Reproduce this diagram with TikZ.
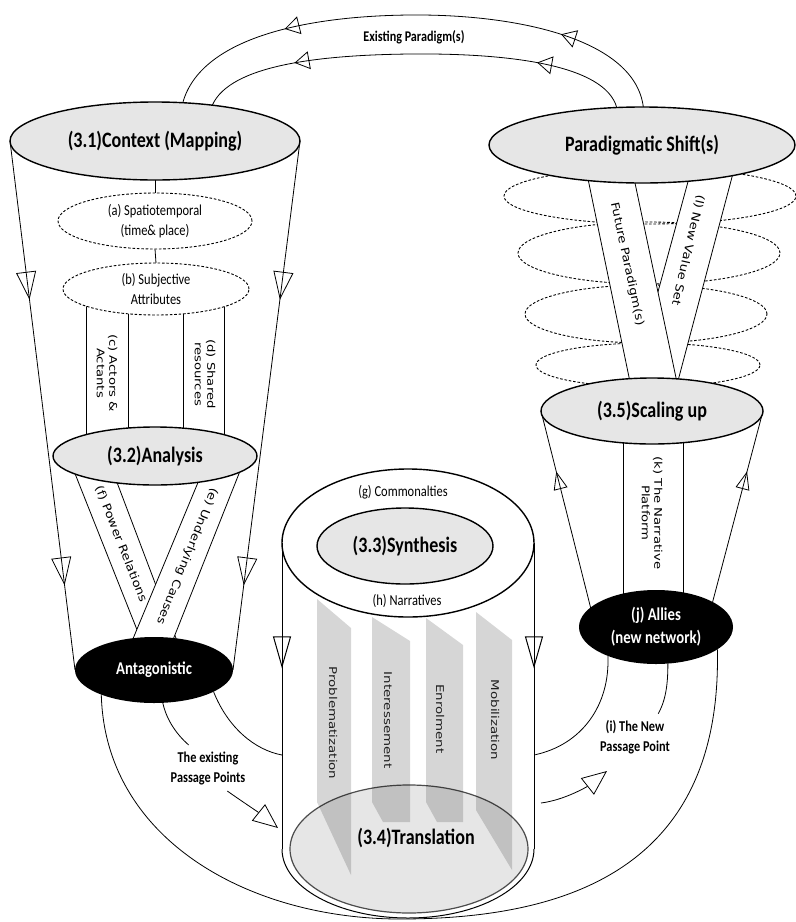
\documentclass[tikz,border=0pt]{standalone}
\usepackage{fontspec}
\setmainfont{Carlito}
\newfontfamily\cfont[FakeStretch=0.82]{Carlito}
\newfontfamily\rotf{DejaVu Sans}
\usetikzlibrary{shapes.geometric,arrows.meta,decorations.markings,calc}
\definecolor{ellfill}{HTML}{E6E6E6}
\pgfdeclarelayer{bg}
\pgfsetlayers{bg,main}
\tikzset{
  oval/.style={ellipse, draw, line width=0.7pt, fill=ellfill, inner sep=0pt, outer sep=0pt,
    font=\cfont\bfseries\fontsize{11}{13}\selectfont},
  darkoval/.style={ellipse, fill=black, text=white, inner sep=0pt, outer sep=0pt, align=center,
    font=\cfont\bfseries\fontsize{9}{11.5}\selectfont},
  dashoval/.style={ellipse, draw, dash pattern=on 1.3pt off 0.9pt, line width=0.45pt, fill=white,
    inner sep=0pt, outer sep=0pt, align=center, font=\cfont\fontsize{7.6}{10.3}\selectfont},
  ring/.style={ellipse, draw, dash pattern=on 1.3pt off 0.9pt, line width=0.45pt, inner sep=0pt, outer sep=0pt},
  facetop/.style={ellipse, draw, line width=0.7pt, fill=white, inner sep=0pt, outer sep=0pt},
  note/.style={font=\cfont\fontsize{7.6}{10}\selectfont, inner sep=1pt},
  boldnote/.style={font=\cfont\bfseries\fontsize{7.5}{10}\selectfont, align=center, inner sep=3pt},
  bandtext/.style={font=\rotf\fontsize{6.6}{7.8}\selectfont, align=center, inner sep=0pt},
  stagetext/.style={font=\rotf\fontsize{6.7}{8}\selectfont, text=black!88, inner sep=0pt},
  panel/.style={fill=black, fill opacity=0.16},
  twotri/.style n args={4}{postaction={decorate}, decoration={markings,
      mark=at position #1 with {\arrow{Triangle[open,length=#3,width=#4]}},
      mark=at position #2 with {\arrow{Triangle[open,length=#3,width=#4]}}}},
  onetri/.style n args={3}{postaction={decorate}, decoration={markings,
      mark=at position #1 with {\arrow{Triangle[open,length=#2,width=#3]}}}},
  bigtip/.style={-{Triangle[open,length=12.5pt,width=10.5pt]}},
}
\begin{document}
\begin{tikzpicture}[x=0.5pt, y=-0.5pt, line width=0.5pt]
\useasboundingbox (0,0) rectangle (796,922);

% ---------- left column ----------
\node[oval, minimum width=145pt, minimum height=39pt] (ctx) at (155,141) {(3.1)Context (Mapping)};
\node[dashoval, minimum width=97pt, minimum height=28pt] (sa) at (155,221) {(a) Spatiotemporal\\(time\& place)};
\node[dashoval, minimum width=93pt, minimum height=26pt] (sb) at (156,289) {(b) Subjective\\Attributes};
\node[oval, minimum width=102pt, minimum height=29pt] (ana) at (155,456) {(3.2)Analysis};
\node[darkoval, minimum width=79pt, minimum height=33pt] (ant) at (154,670) {Antagonistic};

% ---------- right column ----------
\node[oval, minimum width=153pt, minimum height=38pt] (ps) at (642,145) {Paradigmatic Shift(s)};
\node[oval, minimum width=111pt, minimum height=33pt] (sc) at (652,411) {(3.5)Scaling up};
\node[darkoval, minimum width=77pt, minimum height=37pt] (al) at (656,627) {(j) Allies\\(new network)};

% ---------- cylinder ----------
\path[fill=white] (283,543) -- (283,849) arc[start angle=180, end angle=0, x radius=126, y radius=69] -- (535,543) -- cycle;
\node[facetop, minimum width=126pt, minimum height=74pt] (cyl) at (408,543) {};
\draw[onetri={0.41}{16pt}{9pt}] (cyl.west) -- ++(0,306);
\draw[onetri={0.41}{16pt}{9pt}] (cyl.east) -- ++(0,306);
\draw ($(cyl.west)+(0,306)$) arc[start angle=180, end angle=0, x radius=126, y radius=69];
\node[oval, minimum width=88pt, minimum height=38pt] (syn) at (405,546) {(3.3)Synthesis};
\node[note] (com) at (403,492) {(g) Commonalties};
\node[note] (nar) at (407,601) {(h) Narratives};
\node[ellipse, draw=black!70, line width=0.6pt, fill=ellfill, inner sep=0pt, minimum width=119pt, minimum height=64pt] (tr) at (409,849) {};
\fill[panel] (317,599) -- (351,628) -- (351,875) -- (317,802) -- cycle;
\fill[panel] (372,617) -- (410,641) -- (410,822) -- (383,822) -- (372,802) -- cycle;
\fill[panel] (426,618) -- (463,645) -- (463,822) -- (437,822) -- (426,802) -- cycle;
\fill[panel] (476,612) -- (512,640) -- (512,870) -- (476,810) -- cycle;
\node[font=\cfont\bfseries\fontsize{11}{13}\selectfont, inner sep=0pt] (trl) at (416,838) {(3.4)Translation};
\node[stagetext, rotate=-90, yscale=0.8] (s1) at (333,723) {Problematization};
\node[stagetext, rotate=-90, yscale=0.8] (s2) at (388,720) {Interessement};
\node[stagetext, rotate=-90, yscale=0.8] (s3) at (440,719) {Enrolment};
\node[stagetext, rotate=-90, yscale=0.8] (s4) at (495,720) {Mobilization};

% ---------- labels ----------
\node[font=\cfont\bfseries\fontsize{7.4}{9}\selectfont, inner sep=1pt] (exist) at (414,37) {Existing Paradigm(s)};
\node[boldnote] (lbl1) at (208,768) {The existing\\Passage Points};
\node[boldnote] (lbl2) at (635,737) {(i) The New\\Passage Point};
\node[bandtext, rotate=-90, yscale=0.8] (lc) at (107,373) {(c) Actors \&\\Actants};
\node[bandtext, rotate=-90, yscale=0.8] (ld) at (205,374) {(d) Shared\\resources};
\node[bandtext, rotate=-90, yscale=0.8] (lk) at (652,513) {(k) The Narrative\\Platform};
\node[bandtext, rotate=-68.5, yscale=0.85] (lf) at (121,544) {(f) Power Relations};
\node[bandtext, rotate=-112, yscale=0.85] (le) at (187,556) {(e) Underlying Causes};
\node[bandtext, rotate=-78, yscale=0.85] (lfp) at (627,264) {Future Paradigm(s)};
\node[bandtext, rotate=-103, yscale=0.85] (lnv) at (688,250) {(l) New Value Set};

\coordinate (epTip) at (278,828);
\coordinate (npTip) at (607,771);

\begin{pgfonlayer}{bg}
  % feedback arcs to the existing paradigm
  \draw[twotri={0.22}{0.75}{7.5pt}{9pt}] (ps.88) .. controls (635,40) and (520,14) .. (410,15)
        .. controls (300,16) and (200,40) .. (ctx.54);
  \draw[twotri={0.22}{0.78}{7.5pt}{9pt}] (ps.124) .. controls (605,65) and (510,53) .. (410,54)
        .. controls (320,55) and (230,65) .. (ctx.32);

  % left funnel
  \draw[twotri={0.3}{0.84}{14pt}{10pt}] (ctx.west) -- (ant.west);
  \draw[twotri={0.3}{0.84}{14pt}{10pt}] (ctx.east) -- (ant.east);
  \draw (ctx.south) -- (sa.north);
  \draw (sa.south) -- (sb.north);
  \draw ($(sb.center)+(-70,0)$) -- ($(ana.center)+(-69,0)$);
  \draw ($(sb.center)+(-28,0)$) -- ($(ana.center)+(-27,0)$);
  \draw ($(sb.center)+(27,0)$) -- ($(ana.center)+(28,0)$);
  \draw ($(sb.center)+(68,0)$) -- ($(ana.center)+(69,0)$);

  % crossing bands below the analysis
  \draw ($(ana.center)+(-87,0)$) -- ($(ant.center)+(-1,0)$);
  \draw ($(ana.center)+(-48,0)$) -- ($(ant.center)+(34,0)$);
  \fill[white] ($(ana.center)+(54,0)$) -- ($(ana.center)+(91,0)$) -- ($(ant.center)+(7,0)$) -- ($(ant.center)+(-34,0)$) -- cycle;
  \draw ($(ana.center)+(54,0)$) -- ($(ant.center)+(-34,0)$);
  \draw ($(ana.center)+(91,0)$) -- ($(ant.center)+(7,0)$);

  % dashed rings between the shift and the scaling up
  \node[ring, minimum width=146pt, minimum height=28pt] (r1) at (650,196) {};
  \node[ring, minimum width=131pt, minimum height=31pt] (r2) at (649,253) {};
  \node[ring, minimum width=121pt, minimum height=29pt] (r3) at (646,314) {};
  \node[ring, minimum width=112pt, minimum height=22pt] (r4) at (648,365) {};

  % crossing bands above the scaling up
  \fill[white] ($(ps.center)+(56,0)$) -- ($(ps.center)+(98.5,0)$) -- ($(sc.center)+(18,0)$) -- ($(sc.center)+(-26.5,0)$) -- cycle;
  \draw ($(ps.center)+(56,0)$) -- ($(sc.center)+(-26.5,0)$);
  \draw ($(ps.center)+(98.5,0)$) -- ($(sc.center)+(18,0)$);
  \fill[white] ($(ps.center)+(-61,0)$) -- ($(ps.center)+(-15,0)$) -- ($(sc.center)+(31,0)$) -- ($(sc.center)+(-16,0)$) -- cycle;
  \draw ($(ps.center)+(-61,0)$) -- ($(sc.center)+(-16,0)$);
  \draw ($(ps.center)+(-15,0)$) -- ($(sc.center)+(31,0)$);

  % right funnel
  \draw[onetri={0.72}{9pt}{7pt}] ($(al.center)+(-60.5,0)$) -- (sc.west);
  \draw[onetri={0.72}{9pt}{7pt}] ($(al.center)+(50,0)$) -- (sc.east);
  \draw ($(sc.center)+(-29,0)$) -- ($(al.center)+(-33,0)$);
  \draw ($(sc.center)+(31,0)$) -- ($(al.center)+(27,0)$);

  % passage curves
  \draw (ant.205) .. controls (105,840) and (250,919) .. (400,919)
        .. controls (580,919) and (722,860) .. (al.340);
  \draw (ant.-20) .. controls (228,728) and (255,750) .. ($(cyl.west)+(0,212)$);
  \draw (ant.-75) .. controls (166,718) and (175,733) .. (lbl1.130);
  \draw[bigtip] (lbl1.-50) .. controls (240,800) and (258,812) .. (epTip);
  \draw ($(cyl.east)+(0,212)$) .. controls (582,745) and (610,705) .. (al.211);
  \draw (al.-72) .. controls (668,690) and (664,703) .. (lbl2.45);
  \draw[bigtip] ($(cyl.east)+(7,260)$) .. controls (565,800) and (588,786) .. (npTip);
\end{pgfonlayer}
\end{tikzpicture}
\end{document}
